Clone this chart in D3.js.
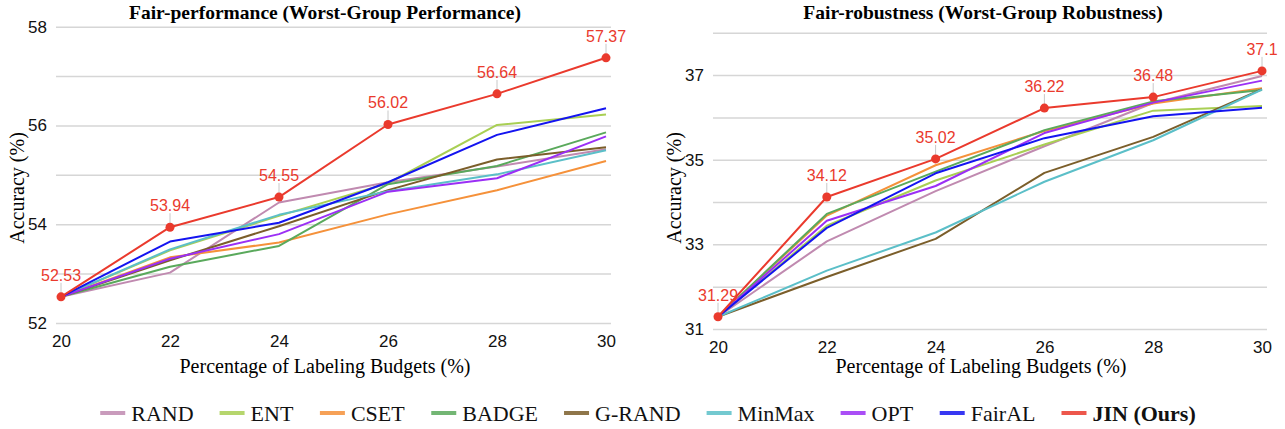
<!DOCTYPE html>
<html>
<head>
<meta charset="utf-8">
<script src="https://cdn.jsdelivr.net/npm/d3@7"></script>
<style>
  body { margin: 0; background: #fff; }
</style>
</head>
<body>
<div id="chart"></div>
<script>
// labeling budgets (%)
const budgets = [20, 22, 24, 26, 28, 30];
const methods = ["RAND", "ENT", "CSET", "BADGE", "G-RAND", "MinMax", "OPT", "FairAL", "JIN (Ours)"];
const colors = ["#c08ab0", "#a9cf54", "#f5913a", "#5aa95c", "#7b5e2a", "#5bbfc8", "#9b2ff5", "#1414f0", "#ea3a2d"];

// Fair-performance (worst-group performance)
const perfRand   = [52.53, 53.02, 54.44, 54.85, 55.17, 55.52];
const perfEnt    = [52.53, 53.47, 54.17, 54.83, 56.01, 56.22];
const perfCset   = [52.53, 53.33, 53.63, 54.20, 54.69, 55.28];
const perfBadge  = [52.53, 53.14, 53.56, 54.81, 55.18, 55.86];
const perfGrand  = [52.53, 53.27, 53.96, 54.69, 55.31, 55.56];
const perfMinmax = [52.53, 53.49, 54.19, 54.67, 55.01, 55.50];
const perfOpt    = [52.53, 53.30, 53.80, 54.66, 54.93, 55.78];
const perfFairal = [52.53, 53.65, 54.03, 54.85, 55.81, 56.35];
const perfJin    = [52.53, 53.94, 54.55, 56.02, 56.64, 57.37];

// Fair-robustness (worst-group robustness)
const robRand   = [31.29, 33.07, 34.26, 35.32, 36.34, 36.98];
const robEnt    = [31.29, 33.44, 34.51, 35.36, 36.16, 36.27];
const robCset   = [31.29, 33.68, 34.87, 35.68, 36.33, 36.69];
const robBadge  = [31.29, 33.72, 34.72, 35.70, 36.38, 36.65];
const robGrand  = [31.29, 32.23, 33.13, 34.69, 35.54, 36.67];
const robMinmax = [31.29, 32.38, 33.28, 34.48, 35.46, 36.66];
const robOpt    = [31.29, 33.56, 34.38, 35.63, 36.35, 36.87];
const robFairal = [31.29, 33.39, 34.68, 35.51, 36.03, 36.23];
const robJin    = [31.29, 34.12, 35.02, 36.22, 36.48, 37.1];

const perfTicks = [52, 54, 56, 58];
const robTicks = [31, 33, 35, 37];

const svgWidth = 1285, svgHeight = 429;
const serif = "'Liberation Serif', 'Times New Roman', serif";
const sans = "'Liberation Sans', Arial, sans-serif";

const svg = d3.select("#chart").append("svg")
  .attr("width", svgWidth)
  .attr("height", svgHeight);

function drawPanel(opts) {
  const { series, yDomain, labelTicks, xRange, yRange, title, titleX, yTitleX, xTitleX } = opts;
  const g = svg.append("g");

  const xScale = d3.scaleLinear().domain([20, 30]).range(xRange);
  const yScale = d3.scaleLinear().domain(yDomain).range(yRange);

  // gridlines at every integer, labels only on some
  const gridVals = d3.range(yDomain[0], yDomain[1] + 1);
  const yAxis = d3.axisLeft(yScale)
    .tickValues(gridVals)
    .tickSize(-(xRange[1] - xRange[0] + 10))
    .tickPadding(9)
    .tickFormat(d => labelTicks.includes(d) ? d : "");
  const yg = g.append("g")
    .attr("transform", `translate(${xRange[0] - 5},0)`)
    .call(yAxis);
  yg.select(".domain").remove();
  yg.selectAll(".tick line").attr("stroke", "#d6d6d6").attr("stroke-width", 1.5);
  yg.selectAll(".tick text")
    .style("font-family", sans).style("font-size", "17px").attr("fill", "#111");

  const xAxis = d3.axisBottom(xScale).tickValues(budgets).tickSize(0).tickPadding(12);
  const xg = g.append("g")
    .attr("transform", `translate(0,${yRange[0]})`)
    .call(xAxis);
  xg.select(".domain").remove();
  xg.selectAll(".tick text")
    .style("font-family", sans).style("font-size", "17px").attr("fill", "#111");

  const line = d3.line()
    .x((d, i) => xScale(budgets[i]))
    .y(d => yScale(d));

  g.selectAll(".series")
    .data(series)
    .enter().append("path")
    .attr("class", "series")
    .attr("d", d => line(d.values))
    .attr("fill", "none")
    .attr("stroke", d => d.color)
    .attr("stroke-width", 2)
    .attr("stroke-linejoin", "round");

  const ours = series[series.length - 1];
  const pts = g.selectAll(".pt")
    .data(ours.values)
    .enter().append("g")
    .attr("class", "pt")
    .attr("transform", (d, i) => `translate(${xScale(budgets[i])},${yScale(d)})`);
  pts.append("line")
    .attr("y1", -4).attr("y2", -14)
    .attr("stroke", "#c8c8c8").attr("stroke-width", 1);
  pts.append("circle")
    .attr("r", 4.5)
    .attr("fill", ours.color);
  pts.append("text")
    .attr("y", -16)
    .attr("text-anchor", "middle")
    .style("font-family", sans)
    .style("font-size", "16px")
    .attr("fill", ours.color)
    .text(d => String(d));

  g.append("text")
    .attr("x", titleX).attr("y", 19)
    .attr("text-anchor", "middle")
    .style("font-family", serif).style("font-size", "19.5px").style("font-weight", "bold")
    .text(title);

  g.append("text")
    .attr("transform", `translate(${yTitleX},188) rotate(-90)`)
    .attr("text-anchor", "middle")
    .style("font-family", serif).style("font-size", "20px")
    .text("Accuracy (%)");

  g.append("text")
    .attr("x", xTitleX).attr("y", 373)
    .attr("text-anchor", "middle")
    .style("font-family", serif).style("font-size", "20px")
    .text("Percentage of Labeling Budgets (%)");
}

const perfValues = [perfRand, perfEnt, perfCset, perfBadge, perfGrand, perfMinmax, perfOpt, perfFairal, perfJin];
const robValues = [robRand, robEnt, robCset, robBadge, robGrand, robMinmax, robOpt, robFairal, robJin];

drawPanel({
  series: methods.map((m, i) => ({ name: m, color: colors[i], values: perfValues[i] })),
  yDomain: [52, 58],
  labelTicks: perfTicks,
  xRange: [61, 606],
  yRange: [323, 26.7],
  title: "Fair-performance (Worst-Group Performance)",
  titleX: 325,
  yTitleX: 24,
  xTitleX: 325
});

drawPanel({
  series: methods.map((m, i) => ({ name: m, color: colors[i], values: robValues[i] })),
  yDomain: [31, 38],
  labelTicks: robTicks,
  xRange: [718, 1262],
  yRange: [329, 32.8],
  title: "Fair-robustness (Worst-Group Robustness)",
  titleX: 983,
  yTitleX: 681,
  xTitleX: 981
});

// legend along the bottom
const legend = svg.append("g").attr("transform", "translate(0,421)");
const items = legend.selectAll(".item")
  .data(methods)
  .enter().append("g")
  .attr("class", "item");
items.append("line")
  .attr("x1", 0).attr("x2", 25)
  .attr("y1", -8).attr("y2", -8)
  .attr("stroke", (d, i) => colors[i])
  .attr("stroke-width", 4)
  .attr("stroke-opacity", 0.85);
items.append("text")
  .attr("x", 31)
  .style("font-family", serif)
  .style("font-size", "22px")
  .style("font-weight", d => d === "JIN (Ours)" ? "bold" : "normal")
  .attr("fill", "#111")
  .text(d => d);

const gap = 26;
let offsets = [], cursor = 0;
items.each(function () {
  offsets.push(cursor);
  cursor += this.getBBox().width + gap;
});
const total = cursor - gap;
const startX = 648 - total / 2;
items.attr("transform", (d, i) => `translate(${startX + offsets[i]},0)`);
</script>
</body>
</html>
